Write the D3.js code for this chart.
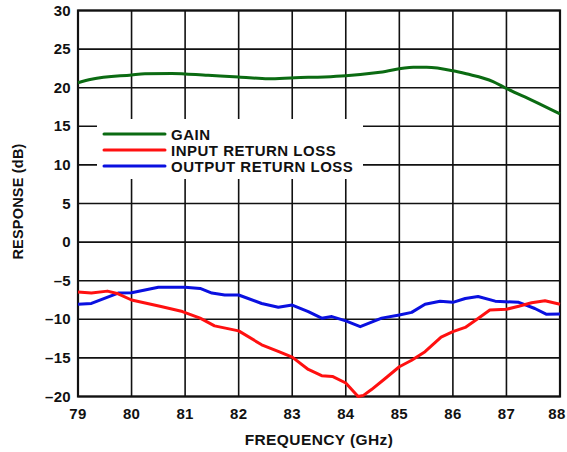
<!DOCTYPE html>
<html>
<head>
<meta charset="utf-8">
<script src="https://cdn.jsdelivr.net/npm/d3@7"></script>
<style>
  body { margin: 0; background: #fff; }
  text { font-family: "Liberation Sans", Arial, sans-serif; font-weight: bold; fill: #111; }
</style>
</head>
<body>
<script>
'use strict';
// frequency (GHz) / response (dB)
let gainFreq = [79.0, 79.25, 80.0, 80.25, 80.75, 81.43, 82.0, 82.55, 83.05, 83.6, 84.0, 84.64, 85.26, 85.51, 86.0, 86.25, 86.75, 87.0, 87.5, 88.0];
let gainVal  = [20.65, 21.1, 21.65, 21.8, 21.85, 21.6, 21.4, 21.15, 21.3, 21.4, 21.55, 22.0, 22.65, 22.65, 22.2, 21.8, 20.8, 19.9, 18.3, 16.6];

let inFreq = [79.0, 79.25, 79.55, 79.75, 80.0, 80.55, 80.95, 81.28, 81.55, 82.0, 82.43, 82.75, 83.0, 83.3, 83.55, 83.75, 84.0, 84.23, 84.33, 84.48, 84.73, 85.0, 85.23, 85.48, 85.78, 86.0, 86.23, 86.47, 86.69, 87.0, 87.23, 87.47, 87.72, 88.0];
let inVal  = [-6.45, -6.6, -6.35, -6.7, -7.5, -8.35, -9.0, -9.85, -10.85, -11.5, -13.3, -14.2, -14.9, -16.5, -17.3, -17.4, -18.25, -20.0, -19.85, -19.1, -17.7, -16.15, -15.3, -14.2, -12.3, -11.6, -11.05, -9.9, -8.8, -8.7, -8.3, -7.85, -7.6, -8.05];

let outFreq = [79.0, 79.25, 79.75, 80.0, 80.5, 81.0, 81.28, 81.5, 81.74, 82.0, 82.43, 82.74, 83.0, 83.3, 83.55, 83.74, 84.0, 84.27, 84.67, 85.0, 85.23, 85.48, 85.76, 86.0, 86.23, 86.47, 86.79, 87.23, 87.53, 87.75, 88.0];
let outVal  = [-8.05, -7.95, -6.6, -6.55, -5.85, -5.85, -6.0, -6.6, -6.85, -6.85, -7.95, -8.45, -8.15, -9.0, -9.85, -9.65, -10.2, -10.95, -9.85, -9.45, -9.1, -8.05, -7.65, -7.8, -7.3, -7.05, -7.65, -7.8, -8.6, -9.35, -9.3];

let xTicks = [79, 80, 81, 82, 83, 84, 85, 86, 87, 88];
let yTicks = [-20, -15, -10, -5, 0, 5, 10, 15, 20, 25, 30];
let seriesNames = ["GAIN", "INPUT RETURN LOSS", "OUTPUT RETURN LOSS"];
let seriesColors = ["#0b6b12", "#ff1010", "#0a10e0"];

let width = 567, height = 452;
let plotLeft = 78, plotRight = 560, plotTop = 10.5, plotBottom = 396.5;

let svg = d3.select("body").append("svg")
	.attr("width", width)
	.attr("height", height);

let x = d3.scaleLinear().domain([79, 88]).range([plotLeft, plotRight]);
let y = d3.scaleLinear().domain([-20, 30]).range([plotBottom, plotTop]);

// grid
svg.selectAll("line.vgrid")
	.data(xTicks)
	.enter().append("line")
		.attr("class", "vgrid")
		.attr("x1", d => x(d)).attr("x2", d => x(d))
		.attr("y1", plotTop).attr("y2", plotBottom)
		.attr("stroke", "#111").attr("stroke-width", 1.6);

svg.selectAll("line.hgrid")
	.data(yTicks)
	.enter().append("line")
		.attr("class", "hgrid")
		.attr("x1", plotLeft).attr("x2", plotRight)
		.attr("y1", d => y(d)).attr("y2", d => y(d))
		.attr("stroke", "#111").attr("stroke-width", 1.6);

svg.append("rect")
	.attr("x", plotLeft).attr("y", plotTop)
	.attr("width", plotRight - plotLeft).attr("height", plotBottom - plotTop)
	.attr("fill", "none").attr("stroke", "#111").attr("stroke-width", 2.2);

// tick labels
let fmt = d => String(d).replace("-", "\u2013");
svg.selectAll("text.ylab")
	.data(yTicks)
	.enter().append("text")
		.attr("class", "ylab")
		.attr("x", plotLeft - 7)
		.attr("y", d => y(d) + 5)
		.attr("text-anchor", "end")
		.style("font-size", "15px")
		.style("letter-spacing", "0.3px")
		.text(fmt);

svg.selectAll("text.xlab")
	.data(xTicks)
	.enter().append("text")
		.attr("class", "xlab")
		.attr("x", d => x(d))
		.attr("dx", (d,i) => i == xTicks.length - 1 ? -3 : 0)
		.attr("y", plotBottom + 22.5)
		.attr("text-anchor", "middle")
		.style("font-size", "15px")
		.style("letter-spacing", "0.3px")
		.text(fmt);

svg.append("text")
	.attr("x", 319)
	.attr("y", 445)
	.attr("text-anchor", "middle")
	.style("font-size", "15.5px")
	.style("letter-spacing", "0.4px")
	.text("FREQUENCY (GHz)");

svg.append("text")
	.attr("transform", "translate(23,201.5) rotate(-90)")
	.attr("text-anchor", "middle")
	.style("font-size", "14.5px")
	.style("letter-spacing", "0.2px")
	.text("RESPONSE (dB)");

// legend box (white, covers the grid)
svg.append("rect")
	.attr("x", 97).attr("y", 119)
	.attr("width", 266).attr("height", 60)
	.attr("fill", "#fff");

let series = [
	{f: gainFreq, v: gainVal, curve: d3.curveMonotoneX},
	{f: inFreq, v: inVal, curve: d3.curveLinear},
	{f: outFreq, v: outVal, curve: d3.curveLinear}
];

let line = d3.line();
// draw output first, then input, gain on top
[2, 1, 0].forEach(function(i){
	let s = series[i];
	line.x(d => x(d[0])).y(d => y(d[1])).curve(s.curve);
	svg.append("path")
		.attr("d", line(d3.zip(s.f, s.v)))
		.attr("fill", "none")
		.attr("stroke", seriesColors[i])
		.attr("stroke-width", 3)
		.attr("stroke-linejoin", "round");
});

let legend = svg.selectAll("g.legend")
	.data(seriesNames)
	.enter().append("g")
		.attr("class", "legend")
		.attr("transform", function(d,i){ return "translate(104," + (134 + i*16) + ")"; });

legend.append("line")
	.attr("x1", 0).attr("x2", 61)
	.attr("y1", 0).attr("y2", 0)
	.attr("stroke", (d,i) => seriesColors[i])
	.attr("stroke-width", 3)
	.attr("stroke-linecap", "round");

legend.append("text")
	.attr("x", 67).attr("y", 5.5)
	.style("font-size", "15px")
	.style("letter-spacing", "0.5px")
	.text(d => d);
</script>
</body>
</html>
